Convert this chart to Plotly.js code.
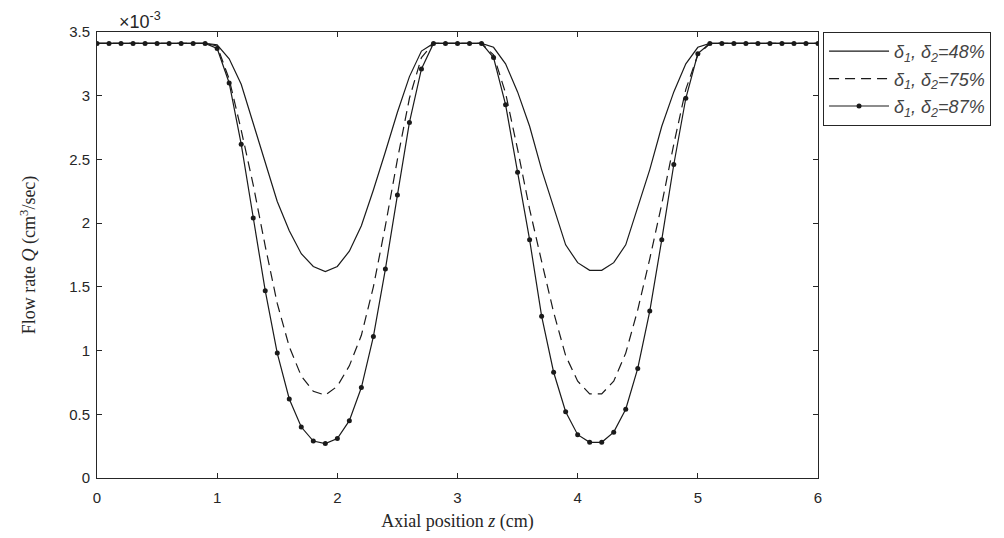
<!DOCTYPE html>
<html>
<head>
<meta charset="utf-8">
<script src="https://cdn.plot.ly/plotly-3.0.1.min.js"></script>
<style>html,body{margin:0;padding:0;background:#fff}#chart{width:1004px;height:538px}</style>
</head>
<body>
<div id="chart"></div>
<script>
// Axial position z (cm)
var z = [0.0,0.1,0.2,0.3,0.4,0.5,0.6,0.7,0.8,0.9,
         1.0,1.1,1.2,1.3,1.4,1.5,1.6,1.7,1.8,1.9,
         2.0,2.1,2.2,2.3,2.4,2.5,2.6,2.7,2.8,2.9,
         3.0,3.1,3.2,3.3,3.4,3.5,3.6,3.7,3.8,3.9,
         4.0,4.1,4.2,4.3,4.4,4.5,4.6,4.7,4.8,4.9,
         5.0,5.1,5.2,5.3,5.4,5.5,5.6,5.7,5.8,5.9,6.0];

// Flow rate Q (x 10^-3 cm^3/sec)
var q48 = [3.41,3.41,3.41,3.41,3.41,3.41,3.41,3.41,3.41,3.41,
           3.40,3.29,3.09,2.78,2.46,2.17,1.94,1.76,1.66,1.62,
           1.66,1.78,1.98,2.26,2.56,2.87,3.15,3.35,3.41,3.41,
           3.41,3.41,3.41,3.38,3.25,3.03,2.76,2.42,2.12,1.83,
           1.69,1.63,1.63,1.69,1.83,2.12,2.42,2.76,3.03,3.25,
           3.38,3.41,3.41,3.41,3.41,3.41,3.41,3.41,3.41,3.41,3.41];

var q75 = [3.41,3.41,3.41,3.41,3.41,3.41,3.41,3.41,3.41,3.41,
           3.39,3.13,2.73,2.30,1.82,1.37,1.03,0.80,0.68,0.65,
           0.72,0.88,1.12,1.50,1.98,2.50,2.98,3.30,3.41,3.41,
           3.41,3.41,3.41,3.32,3.02,2.58,2.11,1.70,1.30,0.96,
           0.76,0.66,0.66,0.76,0.98,1.32,1.72,2.15,2.62,3.05,
           3.32,3.41,3.41,3.41,3.41,3.41,3.41,3.41,3.41,3.41,3.41];

var q87 = [3.41,3.41,3.41,3.41,3.41,3.41,3.41,3.41,3.41,3.41,
           3.37,3.10,2.62,2.04,1.47,0.98,0.62,0.40,0.29,0.27,
           0.31,0.45,0.71,1.11,1.64,2.22,2.79,3.21,3.41,3.41,
           3.41,3.41,3.41,3.30,2.93,2.40,1.87,1.27,0.83,0.52,
           0.34,0.28,0.28,0.36,0.54,0.86,1.31,1.87,2.46,2.98,
           3.33,3.41,3.41,3.41,3.41,3.41,3.41,3.41,3.41,3.41,3.41];

var seriesNames = ['<i>δ<sub>1</sub>, δ<sub>2</sub>=48%</i>',
                   '<i>δ<sub>1</sub>, δ<sub>2</sub>=75%</i>',
                   '<i>δ<sub>1</sub>, δ<sub>2</sub>=87%</i>'];
var xTicks = [0,1,2,3,4,5,6];
var yTicks = [0,0.5,1,1.5,2,2.5,3,3.5];

var ink = '#1a1a1a';
var traces = [
  {x: z, y: q48, name: seriesNames[0], mode: 'lines', legendgroup: 'a',
   line: {color: ink, width: 1.2}},
  {x: z, y: q75, name: seriesNames[1], mode: 'lines', legendgroup: 'b',
   line: {color: ink, width: 1.2, dash: '10px,6px'}},
  {x: z, y: q87, name: seriesNames[2], mode: 'lines+markers', legendgroup: 'c',
   line: {color: ink, width: 1.2}, marker: {color: ink, size: 5, symbol: 'circle'}}
];

var axisCommon = {
  showgrid: false, zeroline: false, showline: true, linecolor: '#262626', linewidth: 1,
  ticks: 'inside', ticklen: 5, tickwidth: 1, tickcolor: '#262626', mirror: 'allticks',
  tickfont: {family: 'Liberation Sans, Arial, sans-serif', size: 15, color: '#262626'}
};

var layout = {
  width: 1004, height: 538,
  margin: {l: 97, r: 186, t: 32, b: 60, autoexpand: false},
  paper_bgcolor: '#fff', plot_bgcolor: '#fff',
  showlegend: true,
  xaxis: Object.assign({}, axisCommon, {
    range: [0, 6], tickvals: xTicks, ticktext: xTicks.map(String), ticklabelstandoff: 6,
    title: {text: 'Axial position <i>z</i> (cm)', standoff: 9,
            font: {family: 'Liberation Serif, Times New Roman, serif', size: 18, color: '#262626'}}
  }),
  yaxis: Object.assign({}, axisCommon, {
    range: [0, 3.5], tickvals: yTicks, ticktext: yTicks.map(String), ticklabelstandoff: 3,
    title: {text: 'Flow rate <i>Q</i> (cm<sup>3</sup>/sec)', standoff: 28,
            font: {family: 'Liberation Serif, Times New Roman, serif', size: 18, color: '#262626'}}
  }),
  legend: {
    x: 1.007, y: 1.0, xanchor: 'left', yanchor: 'top',
    bgcolor: '#fff', bordercolor: '#262626', borderwidth: 1,
    font: {family: 'Liberation Sans, Arial, sans-serif', size: 18, color: '#444'},
    tracegroupgap: 1, itemwidth: 60
  },
  annotations: [{
    xref: 'paper', yref: 'paper', x: 0.028, y: 1.0, xanchor: 'left', yanchor: 'bottom', yshift: -2,
    text: '×10<sup>-3</sup>', showarrow: false,
    font: {family: 'Liberation Sans, Arial, sans-serif', size: 18, color: '#262626'}
  }]
};

Plotly.newPlot('chart', traces, layout, {displayModeBar: false, staticPlot: true});
</script>
</body>
</html>
